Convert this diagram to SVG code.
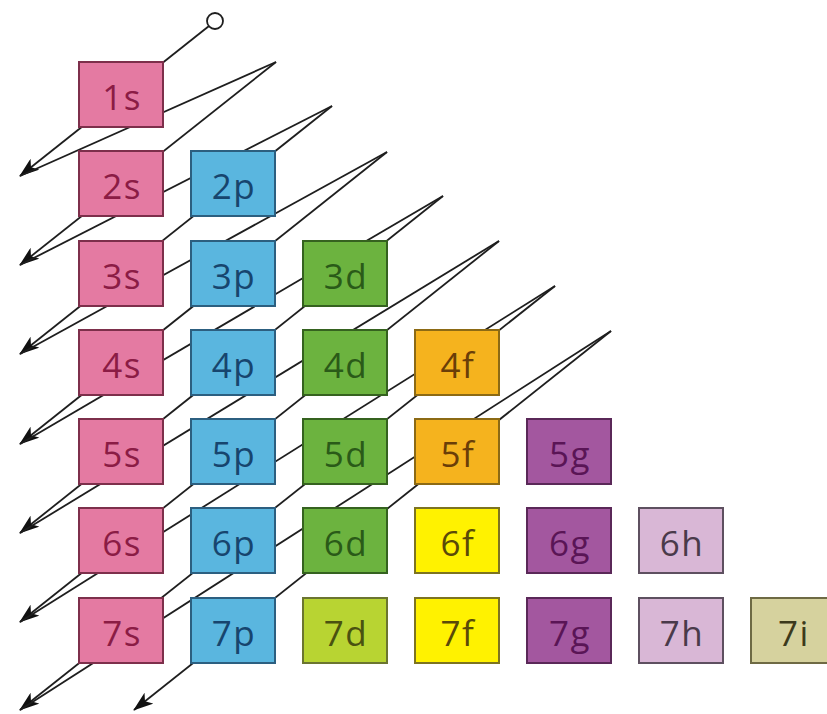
<svg xmlns="http://www.w3.org/2000/svg" width="827" height="714" viewBox="0 0 827 714">
<style>
.bx{stroke-width:2}
.t{font-family:"Open Sans","Liberation Sans",sans-serif;font-size:35px;text-anchor:middle;letter-spacing:1.5px}
.s rect{fill:#e47aa2;stroke:#7d2f4b}.s text{fill:#8b1c45}
.p rect{fill:#5ab6df;stroke:#2c5f80}.p text{fill:#17456e}
.d rect{fill:#6cb33f;stroke:#35621f}.d text{fill:#2a5a18}
.f rect{fill:#f5b31e;stroke:#8c6a14}.f text{fill:#6a3e08}
.fy rect{fill:#fff200;stroke:#7d7420}.fy text{fill:#5a4a08}
.dy rect{fill:#b8d432;stroke:#6b7530}.dy text{fill:#4a5210}
.g rect{fill:#a3579f;stroke:#5a2858}.g text{fill:#5a1556}
.h rect{fill:#d9b7d6;stroke:#5e5060}.h text{fill:#4a3a4a}
.i rect{fill:#d6d29e;stroke:#6e6a44}.i text{fill:#3c3a1c}
.ln{stroke:#1e1e1e;stroke-width:1.8;fill:none}
.dn{marker-end:url(#ah)}
</style>
<defs>
<marker id="ah" markerUnits="userSpaceOnUse" viewBox="0 0 20 14" refX="19" refY="7" markerWidth="20" markerHeight="14" orient="auto">
<path d="M0,0 L20,7 L0,14 L5,7 z" fill="#111"/>
</marker>
</defs>
<rect width="827" height="714" fill="#fff"/>
<g id="connectors">
<circle cx="215" cy="21" r="8" fill="#fff" stroke="#1e1e1e" stroke-width="1.8"/>
<line class="ln dn" x1="209" y1="26" x2="20" y2="176"/>
<line class="ln" x1="20" y1="176" x2="276" y2="62"/>
<line class="ln dn" x1="276" y1="62" x2="20" y2="265"/>
<line class="ln" x1="20" y1="265" x2="332" y2="106"/>
<line class="ln dn" x1="332" y1="106" x2="20" y2="354"/>
<line class="ln" x1="20" y1="354" x2="387" y2="152"/>
<line class="ln dn" x1="387" y1="152" x2="20" y2="444"/>
<line class="ln" x1="20" y1="444" x2="443" y2="196"/>
<line class="ln dn" x1="443" y1="196" x2="20" y2="533"/>
<line class="ln" x1="20" y1="533" x2="499" y2="241"/>
<line class="ln dn" x1="499" y1="241" x2="20" y2="622"/>
<line class="ln" x1="20" y1="622" x2="555" y2="286"/>
<line class="ln dn" x1="555" y1="286" x2="20" y2="710"/>
<line class="ln" x1="20" y1="710" x2="611" y2="331"/>
<line class="ln dn" x1="611" y1="331" x2="134" y2="710"/>
</g>
<g id="n1s" class="s"><rect class="bx" x="79" y="62" width="84" height="65"/><text class="t" x="122" y="110">1s</text></g>
<g id="n2s" class="s"><rect class="bx" x="79" y="151" width="84" height="65"/><text class="t" x="122" y="199">2s</text></g>
<g id="n2p" class="p"><rect class="bx" x="191" y="151" width="84" height="65"/><text class="t" x="234" y="199">2p</text></g>
<g id="n3s" class="s"><rect class="bx" x="79" y="241" width="84" height="65"/><text class="t" x="122" y="289">3s</text></g>
<g id="n3p" class="p"><rect class="bx" x="191" y="241" width="84" height="65"/><text class="t" x="234" y="289">3p</text></g>
<g id="n3d" class="d"><rect class="bx" x="303" y="241" width="84" height="65"/><text class="t" x="346" y="289">3d</text></g>
<g id="n4s" class="s"><rect class="bx" x="79" y="330" width="84" height="65"/><text class="t" x="122" y="378">4s</text></g>
<g id="n4p" class="p"><rect class="bx" x="191" y="330" width="84" height="65"/><text class="t" x="234" y="378">4p</text></g>
<g id="n4d" class="d"><rect class="bx" x="303" y="330" width="84" height="65"/><text class="t" x="346" y="378">4d</text></g>
<g id="n4f" class="f"><rect class="bx" x="415" y="330" width="84" height="65"/><text class="t" x="458" y="378">4f</text></g>
<g id="n5s" class="s"><rect class="bx" x="79" y="419" width="84" height="65"/><text class="t" x="122" y="467">5s</text></g>
<g id="n5p" class="p"><rect class="bx" x="191" y="419" width="84" height="65"/><text class="t" x="234" y="467">5p</text></g>
<g id="n5d" class="d"><rect class="bx" x="303" y="419" width="84" height="65"/><text class="t" x="346" y="467">5d</text></g>
<g id="n5f" class="f"><rect class="bx" x="415" y="419" width="84" height="65"/><text class="t" x="458" y="467">5f</text></g>
<g id="n5g" class="g"><rect class="bx" x="527" y="419" width="84" height="65"/><text class="t" x="570" y="467">5g</text></g>
<g id="n6s" class="s"><rect class="bx" x="79" y="508" width="84" height="65"/><text class="t" x="122" y="556">6s</text></g>
<g id="n6p" class="p"><rect class="bx" x="191" y="508" width="84" height="65"/><text class="t" x="234" y="556">6p</text></g>
<g id="n6d" class="d"><rect class="bx" x="303" y="508" width="84" height="65"/><text class="t" x="346" y="556">6d</text></g>
<g id="n6f" class="fy"><rect class="bx" x="415" y="508" width="84" height="65"/><text class="t" x="458" y="556">6f</text></g>
<g id="n6g" class="g"><rect class="bx" x="527" y="508" width="84" height="65"/><text class="t" x="570" y="556">6g</text></g>
<g id="n6h" class="h"><rect class="bx" x="639" y="508" width="84" height="65"/><text class="t" x="682" y="556">6h</text></g>
<g id="n7s" class="s"><rect class="bx" x="79" y="598" width="84" height="65"/><text class="t" x="122" y="646">7s</text></g>
<g id="n7p" class="p"><rect class="bx" x="191" y="598" width="84" height="65"/><text class="t" x="234" y="646">7p</text></g>
<g id="n7d" class="dy"><rect class="bx" x="303" y="598" width="84" height="65"/><text class="t" x="346" y="646">7d</text></g>
<g id="n7f" class="fy"><rect class="bx" x="415" y="598" width="84" height="65"/><text class="t" x="458" y="646">7f</text></g>
<g id="n7g" class="g"><rect class="bx" x="527" y="598" width="84" height="65"/><text class="t" x="570" y="646">7g</text></g>
<g id="n7h" class="h"><rect class="bx" x="639" y="598" width="84" height="65"/><text class="t" x="682" y="646">7h</text></g>
<g id="n7i" class="i"><rect class="bx" x="751" y="598" width="84" height="65"/><text class="t" x="794" y="646">7i</text></g>
</svg>
